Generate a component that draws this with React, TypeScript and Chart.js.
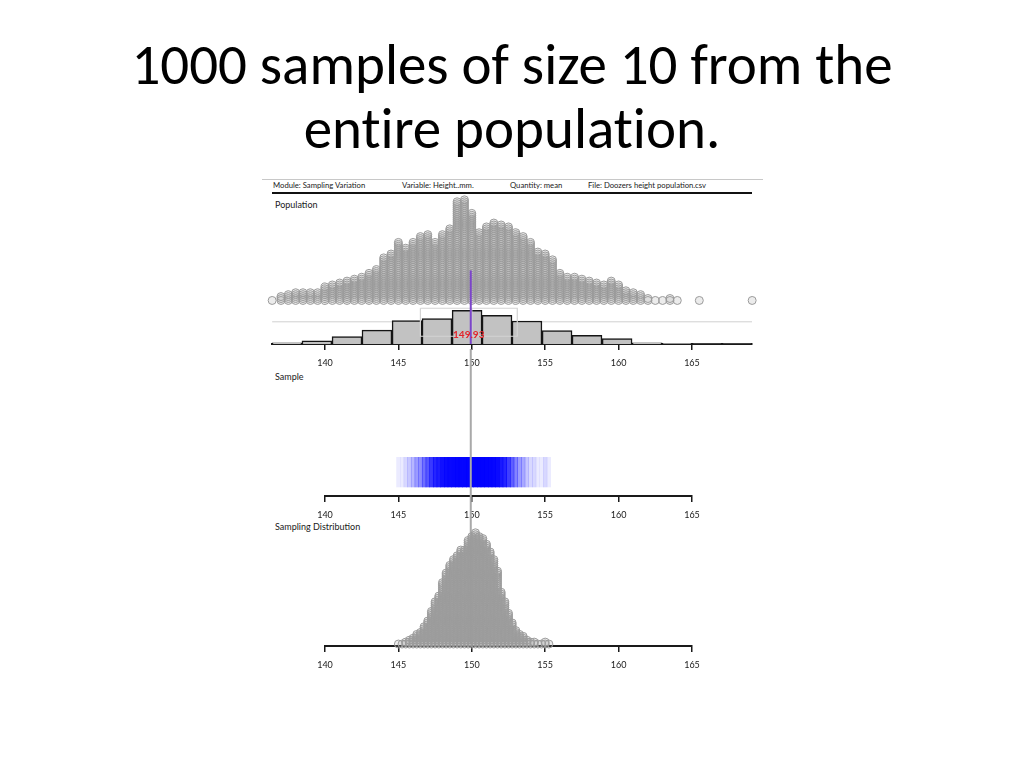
import React, { useEffect, useRef } from "react";
import { Chart, registerables } from "chart.js";

Chart.register(...registerables);

// ---------------- data ----------------
const titleLines = ["1000 samples of size 10 from the", "entire population."];
const headerItems = [
  "Module: Sampling Variation",
  "Variable: Height..mm.",
  "Quantity: mean",
  "File: Doozers height population.csv",
];
const panelLabels = ["Population", "Sample", "Sampling Distribution"];

// population dot plot: column value and number of stacked dots
const popValues = [
  136.4, 137.0, 137.5, 138.0, 138.5, 139.0, 139.5, 140.0, 140.5, 141.0,
  141.5, 142.0, 142.5, 143.0, 143.5, 144.0, 144.5, 145.0, 145.5, 146.0,
  146.5, 147.0, 147.5, 148.0, 148.5, 149.0, 149.5, 150.0, 150.5, 151.0,
  151.5, 152.0, 152.5, 153.0, 153.5, 154.0, 154.5, 155.0, 155.5, 156.0,
  156.5, 157.0, 157.5, 158.0, 158.5, 159.0, 159.5, 160.0, 160.5, 161.0,
  161.5, 162.0, 162.5, 163.0, 163.5, 164.0, 165.5, 169.1,
];
const popCounts = [
  1, 3, 4, 5, 5, 5, 5, 8, 9, 10,
  11, 12, 13, 15, 17, 23, 25, 31, 28, 31,
  34, 35, 31, 35, 38, 52, 53, 46, 36, 39,
  41, 40, 39, 36, 34, 31, 26, 25, 22, 15,
  13, 13, 12, 11, 10, 9, 11, 9, 6, 5,
  4, 2, 1, 1, 2, 1, 1, 1,
];

// population histogram (16 bins)
const histCentres = [
  137.41, 139.45, 141.5, 143.54, 145.59, 147.63, 149.68, 151.72,
  153.76, 155.81, 157.85, 159.9, 161.94, 163.98, 166.03, 168.07,
];
const histCounts = [7, 19, 43, 80, 135, 147, 194, 166, 133, 78, 50, 32, 7, 4, 1, 1];

// box plot: min, q1, median, q3, max
const popBox = [136.4, 146.5, 150.0, 153.1, 169.1];
const popMean = 149.93;
const popAxisRange = [136.39, 169.09];
const sampleAxisRange = [140, 165];

// sampling distribution of the 1000 sample means
const meanValues = [
  145.0, 145.25, 145.5, 145.75, 146.0, 146.25, 146.5, 146.75, 147.0, 147.25,
  147.5, 147.75, 148.0, 148.25, 148.5, 148.75, 149.0, 149.25, 149.5, 149.75,
  150.0, 150.25, 150.5, 150.75, 151.0, 151.25, 151.5, 151.75, 152.0, 152.25,
  152.5, 152.75, 153.0, 153.25, 153.5, 153.75, 154.0, 154.25, 154.5, 154.75,
  155.0, 155.25,
];
const meanCounts = [
  1, 1, 2, 3, 4, 6, 7, 10, 13, 18,
  23, 26, 33, 38, 42, 45, 47, 50, 50, 55,
  57, 59, 57, 56, 53, 49, 45, 39, 28, 23,
  17, 12, 8, 6, 5, 3, 2, 2, 1, 1,
  2, 1,
];

// ---------------- helpers ----------------
const smallFont = 'Lato, "Open Sans", sans-serif';
const dotColor = "#9b9b9b";
const dotFill = "rgba(160,160,160,0.2)";

function stackPoints(values: number[], counts: number[]) {
  const pts: { x: number; y: number }[] = [];
  values.forEach((v, i) => {
    for (let k = 0; k < counts[i]; k++) pts.push({ x: v, y: k });
  });
  return pts;
}

function xAxis(range: number[], height: number): any {
  return {
    type: "linear",
    position: "bottom",
    min: range[0],
    max: range[1],
    offset: false,
    afterFit: (scale: any) => {
      scale.height = height;
    },
    grid: {
      offset: false,
      drawOnChartArea: false,
      drawTicks: true,
      tickLength: 6,
      color: "#1a1a1a",
      lineWidth: 1.5,
    },
    border: { display: true, color: "#1a1a1a", width: 2 },
    ticks: {
      stepSize: 5,
      includeBounds: false,
      autoSkip: false,
      maxRotation: 0,
      padding: 8,
      color: "#1a1a1a",
      font: { family: smallFont, size: 9 },
    },
  };
}

const baseOptions: any = {
  responsive: false,
  animation: false,
  events: [],
  plugins: { legend: { display: false }, tooltip: { enabled: false } },
};

const meanLabelPlugin = {
  id: "meanLabel",
  afterDatasetsDraw(chart: any) {
    const { ctx, scales } = chart;
    const x = scales.x.getPixelForValue(popMean);
    const y = scales.yBox.getPixelForValue(0.065);
    ctx.save();
    ctx.font = `bold 10px ${smallFont}`;
    ctx.fillStyle = "#e3242b";
    ctx.textAlign = "center";
    ctx.textBaseline = "middle";
    ctx.fillText(popMean.toFixed(2), x - 2, y);
    ctx.restore();
  },
};

function populationConfig(): any {
  const [mn, q1, med, q3, mx] = popBox;
  const boxTop = 0.24;
  const boxBottom = 0.052;
  const boxMid = 0.149;
  const lineStyle = { type: "line", xAxisID: "x", yAxisID: "yBox", pointRadius: 0, fill: false, tension: 0 };
  return {
    type: "scatter",
    data: {
      datasets: [
        {
          type: "scatter",
          data: stackPoints(popValues, popCounts),
          xAxisID: "x",
          yAxisID: "yDots",
          pointRadius: 4,
          pointBorderWidth: 1,
          pointBorderColor: dotColor,
          pointBackgroundColor: dotFill,
          clip: false,
          order: 9,
        },
        {
          ...lineStyle,
          data: [
            { x: mn, y: boxMid },
            { x: mx, y: boxMid },
          ],
          borderColor: "#d0d0d0",
          borderWidth: 1,
          order: 8,
        },
        {
          type: "bar",
          data: histCentres.map((c, i) => ({ x: c, y: histCounts[i] })),
          xAxisID: "x",
          yAxisID: "yHist",
          backgroundColor: "#c2c2c2",
          borderColor: "#151515",
          borderWidth: 1.5,
          barPercentage: 1,
          categoryPercentage: 1,
          order: 7,
        },
        {
          ...lineStyle,
          data: [
            { x: q1, y: boxTop },
            { x: q3, y: boxTop },
            { x: q3, y: boxBottom },
            { x: q1, y: boxBottom },
            { x: q1, y: boxTop },
          ],
          borderColor: "#d4d4d4",
          borderWidth: 1.2,
          order: 6,
        },
        {
          ...lineStyle,
          data: [
            { x: med, y: boxTop },
            { x: med, y: boxBottom },
          ],
          borderColor: "#d4d4d4",
          borderWidth: 1.2,
          order: 5,
        },
        {
          ...lineStyle,
          data: [
            { x: popMean, y: 0 },
            { x: popMean, y: 0.494 },
          ],
          borderColor: "#7b45c9",
          borderWidth: 2,
          order: 1,
        },
      ],
    },
    options: {
      ...baseOptions,
      layout: { padding: { left: 10, right: 20, top: 0, bottom: 0 } },
      scales: {
        x: xAxis(popAxisRange, 26),
        yDots: { type: "linear", display: false, min: -22.5, max: 54.5 },
        yHist: { type: "linear", display: false, min: 0, max: 861 },
        yBox: { type: "linear", display: false, min: 0, max: 1 },
      },
    },
    plugins: [meanLabelPlugin],
  };
}

function sampleConfig(): any {
  return {
    type: "scatter",
    data: {
      datasets: [
        {
          type: "bar",
          data: meanValues.map((v) => ({ x: v, y: 1 })),
          xAxisID: "x",
          yAxisID: "yStripe",
          backgroundColor: meanCounts.map(
            (c) => `rgba(0,0,255,${(1 - Math.pow(0.92, c)).toFixed(3)})`
          ),
          borderWidth: 0,
          barPercentage: 1,
          categoryPercentage: 1,
        },
      ],
    },
    options: {
      ...baseOptions,
      layout: { padding: { left: 63, right: 80, top: 17, bottom: 0 } },
      scales: {
        x: xAxis(sampleAxisRange, 24),
        yStripe: { type: "linear", display: false, min: -0.3, max: 1 },
      },
    },
  };
}

function distributionConfig(): any {
  const yMin = -1.026;
  const yMax = 153.85;
  return {
    type: "scatter",
    data: {
      datasets: [
        {
          type: "line",
          data: [
            { x: popMean, y: yMax },
            { x: popMean, y: 0 },
          ],
          xAxisID: "x",
          yAxisID: "yS",
          borderColor: "#a9a9a9",
          borderWidth: 2,
          pointRadius: 0,
          fill: false,
          order: 9,
        },
        {
          type: "scatter",
          data: stackPoints(meanValues, meanCounts),
          xAxisID: "x",
          yAxisID: "yS",
          pointRadius: 4,
          pointBorderWidth: 1,
          pointBorderColor: dotColor,
          pointBackgroundColor: dotFill,
          clip: false,
          order: 5,
        },
      ],
    },
    options: {
      ...baseOptions,
      layout: { padding: { left: 63, right: 80, top: 0, bottom: 0 } },
      scales: {
        x: xAxis(sampleAxisRange, 38),
        yS: { type: "linear", display: false, min: yMin, max: yMax },
      },
    },
  };
}

// ---------------- component ----------------
const abs = (left: number, top: number, extra: any = {}): any => ({
  position: "absolute",
  left,
  top,
  ...extra,
});

export default function App() {
  const popRef = useRef<HTMLCanvasElement>(null);
  const sampRef = useRef<HTMLCanvasElement>(null);
  const distRef = useRef<HTMLCanvasElement>(null);

  useEffect(() => {
    const charts: Chart[] = [];
    if (popRef.current) charts.push(new Chart(popRef.current, populationConfig()));
    if (sampRef.current) charts.push(new Chart(sampRef.current, sampleConfig()));
    if (distRef.current) charts.push(new Chart(distRef.current, distributionConfig()));
    return () => charts.forEach((c) => c.destroy());
  }, []);

  const headerX = [273, 402, 510, 588];
  const smallText = (size: number) => ({
    fontFamily: smallFont,
    fontSize: size,
    lineHeight: "12px",
    color: "#1a1a1a",
    whiteSpace: "nowrap",
  });

  return (
    <div
      style={{
        position: "absolute",
        left: 0,
        top: 0,
        width: 1024,
        height: 768,
        background: "#fff",
        overflow: "hidden",
      }}
    >
      {titleLines.map((t, i) => (
        <div
          key={t}
          style={abs(0, 36 + i * 64, {
            width: 1024,
            textAlign: "center",
            fontFamily: 'Carlito, Calibri, Lato, sans-serif',
            fontSize: 57,
            lineHeight: "57px",
            fontVariantLigatures: "none",
            color: "#000",
            whiteSpace: "nowrap",
          })}
        >
          {t}
        </div>
      ))}

      <div style={abs(262, 179, { width: 501, height: 0, borderTop: "1px solid #c8c8c8" })} />
      {headerItems.map((h, i) => (
        <div key={h} style={abs(headerX[i], 179, smallText(7.7))}>
          {h}
        </div>
      ))}
      <div style={abs(272, 192, { width: 480, height: 0, borderTop: "2px solid #111" })} />

      <div style={abs(275, 199, smallText(9))}>{panelLabels[0]}</div>
      <div style={abs(275, 371, smallText(9))}>{panelLabels[1]}</div>
      <div style={abs(275, 521, smallText(9))}>{panelLabels[2]}</div>

      <canvas ref={popRef} width={510} height={180} style={abs(262, 190)} />
      <canvas ref={sampRef} width={510} height={80} style={abs(262, 440)} />
      <canvas ref={distRef} width={510} height={340} style={abs(262, 344)} />
    </div>
  );
}
